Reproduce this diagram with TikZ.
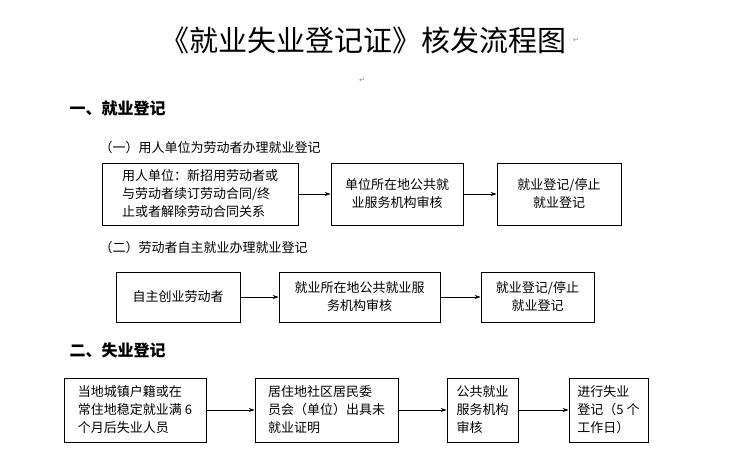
\documentclass[tikz,border=0pt]{standalone}
\usepackage{fontspec}
\setmainfont{Noto Sans CJK SC}
\newfontfamily\dv{DejaVu Sans}
\usetikzlibrary{arrows.meta}
\begin{document}
\begin{tikzpicture}[x=1pt,y=-1pt,
 bx/.style={draw,line width=0.8pt,align=left,font=\fontsize{13}{18}\selectfont,inner sep=0pt},
 ar/.style={-{Stealth[length=6pt,width=4pt]},line width=0.6pt},
 lb/.style={anchor=west,font=\fontsize{13}{15}\selectfont},
 hd/.style={anchor=west,font=\fontsize{16}{18}\selectfont\bfseries},
 pm/.style={font=\dv\fontsize{7}{8}\selectfont,text=gray}]
\useasboundingbox (0,0) rectangle (733,471);
\node[font=\fontsize{29}{32}\selectfont] (t) at (363,40) {《就业失业登记证》核发流程图};
\node[pm,anchor=west] (p1) at (t.east) {↵};
\node[pm] (p2) at (362,80) {↵};
\node[hd] (h1) at (66,108) {一、就业登记};
\node[lb] (l1) at (96,148) {（一）用人单位为劳动者办理就业登记};
\node[bx,minimum width=196pt,minimum height=62pt] (a) at (200,194) {用人单位：新招用劳动者或\\与劳动者续订劳动合同/终\\止或者解除劳动合同关系};
\node[bx,minimum width=132pt,minimum height=62pt,align=center] (b) at (397,194) {单位所在地公共就\\业服务机构审核};
\node[bx,minimum width=124pt,minimum height=62pt,align=center] (c) at (559,194) {就业登记/停止\\就业登记};
\draw[ar] (a) -- (b); \draw[ar] (b) -- (c);
\node[lb] (l2) at (96,248) {（二）劳动者自主就业办理就业登记};
\node[bx,minimum width=124pt,minimum height=50pt] (d) at (178,297) {自主创业劳动者};
\node[bx,minimum width=161pt,minimum height=50pt,align=center] (e) at (359.5,297) {就业所在地公共就业服\\务机构审核};
\node[bx,minimum width=113pt,minimum height=50pt,align=center] (f) at (537.5,297) {就业登记/停止\\就业登记};
\draw[ar] (d) -- (e); \draw[ar] (e) -- (f);
\node[hd] (h2) at (66,350) {二、失业登记};
\node[bx,minimum width=142pt,minimum height=64pt] (g) at (135,410) {当地城镇户籍或在\\常住地稳定就业满 6\\个月后失业人员};
\node[bx,minimum width=143pt,minimum height=64pt] (h) at (326.5,410) {居住地社区居民委\\员会（单位）出具未\\就业证明};
\node[bx,minimum width=71pt,minimum height=64pt] (i) at (482.5,410) {公共就业\\服务机构\\审核};
\node[bx,minimum width=79pt,minimum height=64pt] (j) at (608.5,410) {进行失业\\登记（5 个\\工作日）};
\draw[ar] (g) -- (h); \draw[ar] (h) -- (i); \draw[ar] (i) -- (j);
\end{tikzpicture}
\end{document}
